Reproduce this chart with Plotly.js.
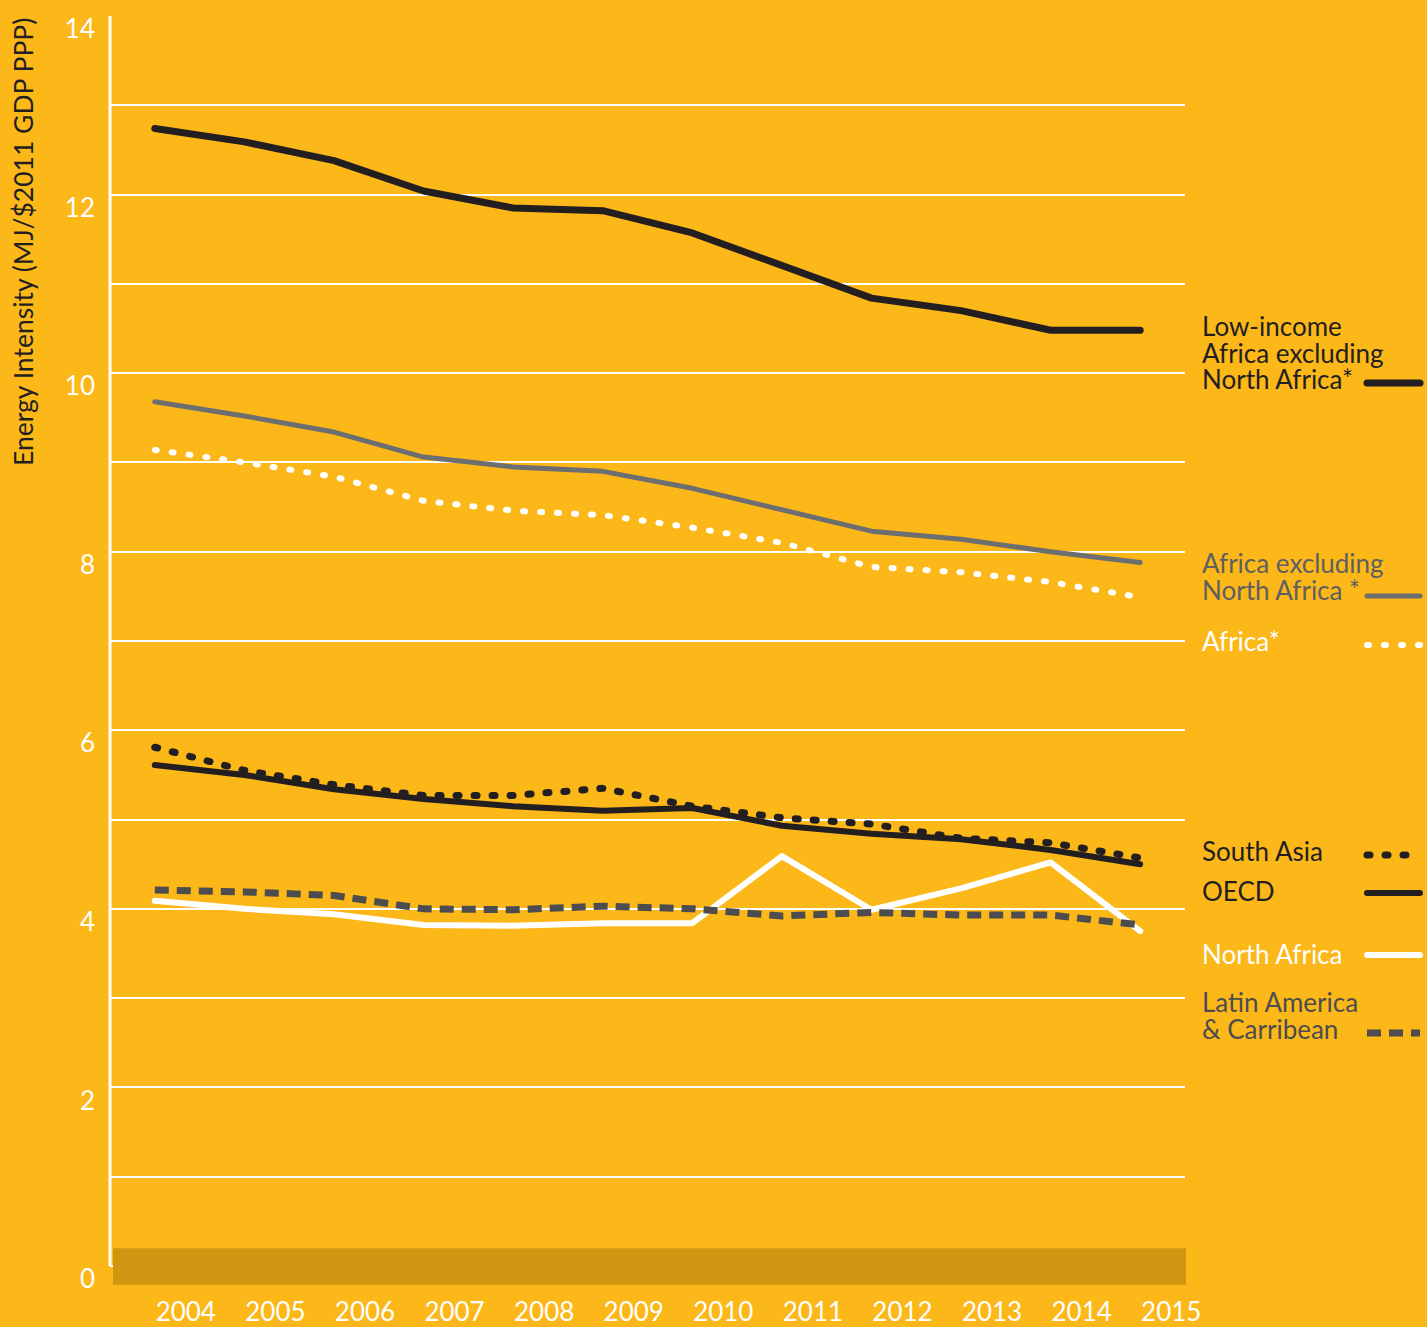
<!DOCTYPE html>
<html>
<head>
<meta charset="utf-8">
<script src="https://cdn.plot.ly/plotly-3.0.1.min.js"></script>
<style>html,body{margin:0;padding:0;background:#FCB719;}</style>
</head>
<body>
<div id="chart" style="width:1427px;height:1327px;"></div>
<script>
// ---- data ----
const years = [2004, 2005, 2006, 2007, 2008, 2009, 2010, 2011, 2012, 2013, 2014, 2015];
const lowIncomeAfricaExNA = [12.74, 12.59, 12.38, 12.04, 11.85, 11.82, 11.57, 11.21, 10.84, 10.70, 10.48, 10.48];
const africaExNA = [9.68, 9.52, 9.34, 9.06, 8.95, 8.90, 8.71, 8.47, 8.23, 8.14, 8.00, 7.88];
const africa = [9.14, 9.00, 8.84, 8.57, 8.46, 8.41, 8.27, 8.10, 7.83, 7.77, 7.66, 7.49];
const southAsia = [5.81, 5.55, 5.39, 5.27, 5.27, 5.35, 5.15, 5.02, 4.95, 4.79, 4.74, 4.57];
const oecd = [5.61, 5.50, 5.34, 5.23, 5.15, 5.10, 5.13, 4.93, 4.84, 4.78, 4.66, 4.50];
const northAfrica = [4.09, 4.00, 3.94, 3.82, 3.81, 3.84, 3.84, 4.59, 3.99, 4.23, 4.52, 3.75];
const latinAmerica = [4.21, 4.19, 4.15, 4.00, 3.99, 4.03, 4.00, 3.92, 3.96, 3.93, 3.93, 3.82];
const yTickVals = [0, 2, 4, 6, 8, 10, 12, 14];
const yTitle = "Energy Intensity (MJ/$2011 GDP PPP)";

// ---- styling ----
const BG = "#FCB719", BAND = "#D09612", DARK = "#231F20", GRAY = "#6D6E70", DGRAY = "#4D4D4F", WHITE = "#FFFFFF";
const FONT = "Lato, 'Open Sans', sans-serif";
const FS = 26;
const LEGEND_LINE_EM = 26.5 / FS;

const series = [
  {name: "Low-income Africa excluding North Africa*", y: lowIncomeAfricaExNA, color: DARK, width: 7, dash: "solid", round: true},
  {name: "Africa excluding North Africa *", y: africaExNA, color: GRAY, width: 5, dash: "solid", round: true},
  {name: "Africa*", y: africa, color: WHITE, width: 6, dash: "2px,15px", round: true},
  {name: "South Asia", y: southAsia, color: DARK, width: 7, dash: "3px,15px", round: true},
  {name: "OECD", y: oecd, color: DARK, width: 6, dash: "solid", round: true},
  {name: "North Africa", y: northAfrica, color: WHITE, width: 6, dash: "solid", round: true},
  {name: "Latin America & Carribean", y: latinAmerica, color: DGRAY, width: 7, dash: "14px,8px", round: false}
];

const traces = series.map(s => ({
  type: "scatter", mode: "lines", x: years, y: s.y, name: s.name,
  line: {color: s.color, width: s.width, dash: s.dash},
  hoverinfo: "skip", showlegend: false
}));

// plot geometry helpers (pixels -> paper)
const L = 110, R = 1185, T = 16, B = 1285, W = 1427, H = 1327;
const px = v => (v - L) / (R - L);
const py = v => (B - v) / (B - T);

const legendItems = [
  {lines: ["Low-income", "Africa excluding", "North Africa*"], y: 325, color: DARK, sampleY: 383, s: 0},
  {lines: ["Africa excluding", "North Africa *"], y: 562, color: "#5E5F61", sampleY: 596, s: 1},
  {lines: ["Africa*"], y: 640, color: WHITE, sampleY: 645, s: 2},
  {lines: ["South Asia"], y: 850, color: DARK, sampleY: 855, s: 3},
  {lines: ["OECD"], y: 890, color: DARK, sampleY: 893, s: 4},
  {lines: ["North Africa"], y: 953, color: WHITE, sampleY: 955, s: 5},
  {lines: ["Latin America", "& Carribean"], y: 1001, color: DGRAY, sampleY: 1033, s: 6}
];

const annotations = [];
const shapes = [];
// band at the bottom
shapes.push({type: "rect", xref: "paper", yref: "y", x0: px(113), x1: px(1186), y0: -0.21, y1: 0.2,
  fillcolor: BAND, line: {width: 0}, layer: "above"});
// y axis line
shapes.push({type: "line", xref: "paper", yref: "y", x0: 0, x1: 0, y0: 0, y1: 14,
  line: {color: WHITE, width: 3}, layer: "above"});

const roundShapeIdx = [];
legendItems.forEach(it => {
  const multi = it.lines.length > 1;
  annotations.push({text: it.lines.join("<br>"), xref: "paper", yref: "paper", x: px(1200),
    y: multi ? py(it.y - 17) : py(it.y + 1),
    xanchor: "left", yanchor: multi ? "top" : "middle", align: "left", showarrow: false,
    font: {family: FONT, size: FS, color: it.color}});
  const s = series[it.s];
  if (s.round) roundShapeIdx.push(shapes.length);
  shapes.push({type: "line", xref: "paper", yref: "paper", x0: px(1367), x1: px(1420),
    y0: py(it.sampleY), y1: py(it.sampleY),
    line: {color: s.color, width: s.width, dash: s.dash}, layer: "above"});
});

// y title
annotations.push({text: yTitle, xref: "paper", yref: "paper", x: px(23), y: 1,
  xanchor: "center", yanchor: "top", textangle: -90, showarrow: false,
  font: {family: FONT, size: 26.5, color: DARK}});

const layout = {
  width: W, height: H,
  paper_bgcolor: BG, plot_bgcolor: BG,
  margin: {l: L, r: W - R, t: T, b: H - B, pad: 0},
  showlegend: false,
  font: {family: FONT, size: FS, color: WHITE},
  xaxis: {
    range: [2003.5, 2015.5], tickvals: years, ticktext: years.map(String),
    showgrid: false, zeroline: false, showline: false, ticks: "",
    ticklabelshift: 31, ticklabelstandoff: 9,
    tickfont: {family: FONT, size: FS, color: WHITE}
  },
  yaxis: {
    range: [-0.213, 14], tickvals: [0,1,2,3,4,5,6,7,8,9,10,11,12,13,14],
    ticktext: [0,1,2,3,4,5,6,7,8,9,10,11,12,13,14].map(v => yTickVals.includes(v) ? String(v) : ""),
    showgrid: true, gridcolor: WHITE, gridwidth: 2, zeroline: false, showline: false, ticks: "",
    ticklabelshift: 13, ticklabelstandoff: 14,
    tickfont: {family: FONT, size: FS, color: WHITE}
  },
  shapes: shapes,
  annotations: annotations
};

Plotly.newPlot("chart", traces, layout, {displayModeBar: false, staticPlot: true}).then(() => {
  document.querySelectorAll(".scatterlayer .trace").forEach((g, i) => {
    if (series[i] && series[i].round) {
      g.querySelectorAll("path.js-line").forEach(p => {
        p.style.strokeLinecap = "round"; p.style.strokeLinejoin = "round";
      });
    }
  });
  roundShapeIdx.forEach(k => {
    document.querySelectorAll('path[data-index="' + k + '"]').forEach(p => {
      p.style.strokeLinecap = "round";
    });
  });
  // tighten line spacing of the multi-line legend labels
  document.querySelectorAll(".annotation text").forEach(t => {
    const lines = t.querySelectorAll("tspan.line");
    if (lines.length > 1) {
      lines.forEach((ts, i) => ts.setAttribute("dy", (i * LEGEND_LINE_EM) + "em"));
    }
  });
});
</script>
</body>
</html>
